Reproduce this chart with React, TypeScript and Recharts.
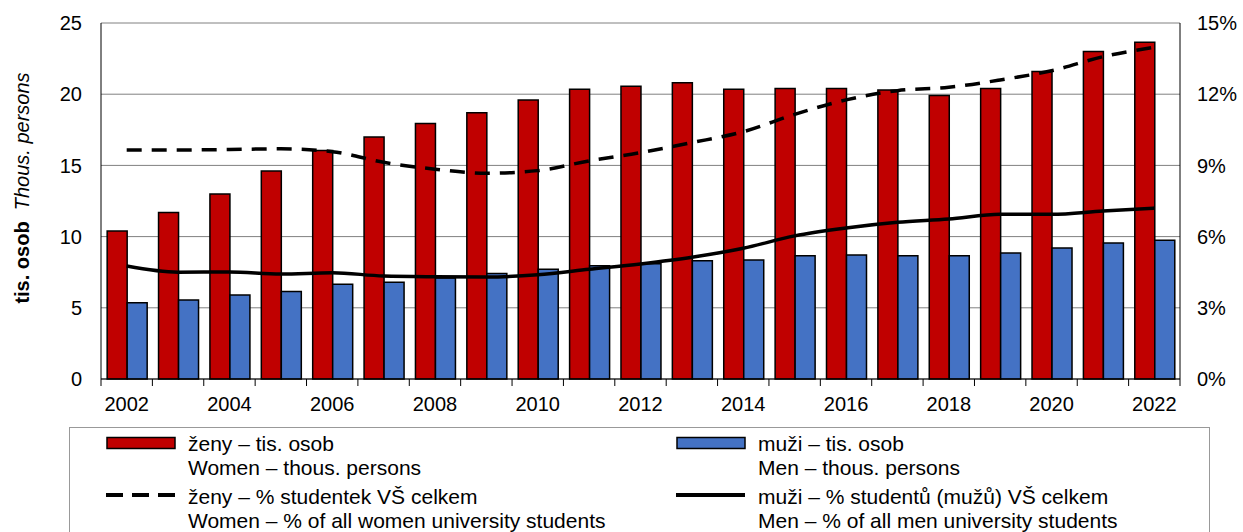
import React from "react";
import { ComposedChart, Bar, Line, XAxis, YAxis, CartesianGrid } from "recharts";

// values
const years = ["2002", "2003", "2004", "2005", "2006", "2007", "2008", "2009", "2010", "2011", "2012",
  "2013", "2014", "2015", "2016", "2017", "2018", "2019", "2020", "2021", "2022"];
const women = [10.4, 11.7, 13.0, 14.6, 16.05, 17.0, 17.95, 18.7, 19.6, 20.35, 20.55,
  20.8, 20.35, 20.4, 20.4, 20.3, 19.9, 20.4, 21.6, 23.0, 23.65];
const men = [5.35, 5.55, 5.9, 6.15, 6.65, 6.8, 7.1, 7.4, 7.7, 7.95, 8.1,
  8.3, 8.35, 8.65, 8.7, 8.65, 8.65, 8.85, 9.2, 9.55, 9.75];
const womenPct = [9.65, 9.65, 9.67, 9.7, 9.58, 9.13, 8.84, 8.67, 8.78, 9.19, 9.54,
  9.96, 10.42, 11.15, 11.76, 12.15, 12.29, 12.6, 12.99, 13.58, 13.98];
const menPct = [4.76, 4.5, 4.51, 4.42, 4.48, 4.34, 4.31, 4.3, 4.39, 4.62, 4.85,
  5.13, 5.51, 6.03, 6.36, 6.6, 6.74, 6.94, 6.94, 7.08, 7.2];
const leftTicks = [0, 5, 10, 15, 20, 25];
const rightTicks = [0, 3, 6, 9, 12, 15];

const data = years.map((year, i) => ({
  year,
  women: women[i],
  men: men[i],
  womenPct: womenPct[i],
  menPct: menPct[i],
}));

const W = 1243;
const CHART_H = 420;
const LEFT_W = 101;
const RIGHT_W = 63;
const TOP = 23;
const BOTTOM = 379;
const BAND = (W - LEFT_W - RIGHT_W) / years.length;
const FONT = "'Liberation Sans', Arial, sans-serif";

const RED = "#C00000";
const BLUE = "#4472C4";

// ticks sit between categories (Excel style), labels on every other year
const XTick = (props: any) => {
  const { x, y, payload, index } = props;
  const half = BAND / 2;
  return (
    <g>
      <line x1={x - half} x2={x - half} y1={y} y2={y + 7} stroke="#000" strokeWidth={1} />
      {index === years.length - 1 && (
        <line x1={x + half} x2={x + half} y1={y} y2={y + 7} stroke="#000" strokeWidth={1} />
      )}
      {index % 2 === 0 && (
        <text x={x} y={y + 32} textAnchor="middle" fontSize={20} fill="#000" fontFamily={FONT}>
          {payload.value}
        </text>
      )}
    </g>
  );
};

const YLabel = () => (
  <text transform="translate(29,188) rotate(-90)" textAnchor="middle" fontSize={20} fill="#000" fontFamily={FONT}>
    <tspan fontWeight="bold">tis. osob</tspan>
    <tspan fontStyle="italic">{"\u00a0\u00a0Thous. persons"}</tspan>
  </text>
);

const LegendBox = () => {
  const t = (x: number, y: number, s: string) => (
    <text x={x} y={y} fontSize={21} fill="#000" fontFamily={FONT}>{s}</text>
  );
  return (
    <svg width={W} height={112} style={{ position: "absolute", left: 0, top: 420 }}>
      <rect x={69.5} y={7.5} width={1140} height={200} fill="none" stroke="#999" strokeWidth={1} />
      <rect x={107} y={17.5} width={68} height={11} fill={RED} stroke="#000" strokeWidth={1.5} />
      {t(188, 31, "ženy – tis. osob")}
      {t(188, 55, "Women – thous. persons")}
      <line x1={106} x2={175} y1={75} y2={75} stroke="#000" strokeWidth={4} strokeDasharray="17 9" />
      {t(188, 84, "ženy – % studentek VŠ celkem")}
      {t(188, 108, "Women – % of all women university students")}

      <rect x={677} y={17.5} width={68} height={11} fill={BLUE} stroke="#000" strokeWidth={1.5} />
      {t(758, 31, "muži – tis. osob")}
      {t(758, 55, "Men – thous. persons")}
      <line x1={676} x2={745} y1={75} y2={75} stroke="#000" strokeWidth={4} />
      {t(758, 84, "muži – % studentů (mužů) VŠ celkem")}
      {t(758, 108, "Men – % of all men university students")}
    </svg>
  );
};

export default function App() {
  return (
    <div style={{ position: "absolute", left: 0, top: 0, width: W, height: 532, background: "#fff", fontFamily: FONT, overflow: "hidden" }}>
      <ComposedChart
        width={W}
        height={CHART_H}
        data={data}
        margin={{ top: TOP, right: 0, bottom: 0, left: 0 }}
        barCategoryGap="12%"
        barGap={0}
      >
        <CartesianGrid yAxisId="left" vertical={false} stroke="#808080" strokeWidth={1} />
        <XAxis
          dataKey="year"
          height={CHART_H - BOTTOM}
          interval={0}
          tickLine={false}
          tickSize={0}
          tickMargin={0}
          axisLine={{ stroke: "#000", strokeWidth: 1 }}
          tick={(p: any) => <XTick {...p} />}
        />
        <YAxis
          yAxisId="left"
          width={LEFT_W}
          domain={[0, 25]}
          ticks={leftTicks}
          interval={0}
          tickLine={false}
          tickSize={0}
          tickMargin={19}
          axisLine={{ stroke: "#000", strokeWidth: 1 }}
          tick={{ fill: "#000", fontSize: 20, fontFamily: FONT }}
          label={{ content: () => <YLabel /> }}
        />
        <YAxis
          yAxisId="right"
          orientation="right"
          width={RIGHT_W}
          domain={[0, 15]}
          ticks={rightTicks}
          interval={0}
          tickLine={false}
          tickSize={0}
          tickMargin={17}
          tickFormatter={(v: number) => `${v}%`}
          axisLine={{ stroke: "#000", strokeWidth: 1 }}
          tick={{ fill: "#000", fontSize: 20, fontFamily: FONT, textAnchor: "start" }}
        />
        <Bar yAxisId="left" dataKey="women" fill={RED} stroke="#000" strokeWidth={1.5} isAnimationActive={false} />
        <Bar yAxisId="left" dataKey="men" fill={BLUE} stroke="#000" strokeWidth={1.5} isAnimationActive={false} />
        <Line
          yAxisId="right"
          type="monotone"
          dataKey="womenPct"
          stroke="#000"
          strokeWidth={3.5}
          strokeDasharray="15 10"
          dot={false}
          activeDot={false}
          isAnimationActive={false}
        />
        <Line
          yAxisId="right"
          type="monotone"
          dataKey="menPct"
          stroke="#000"
          strokeWidth={3.5}
          dot={false}
          activeDot={false}
          isAnimationActive={false}
        />
      </ComposedChart>
      <LegendBox />
    </div>
  );
}
